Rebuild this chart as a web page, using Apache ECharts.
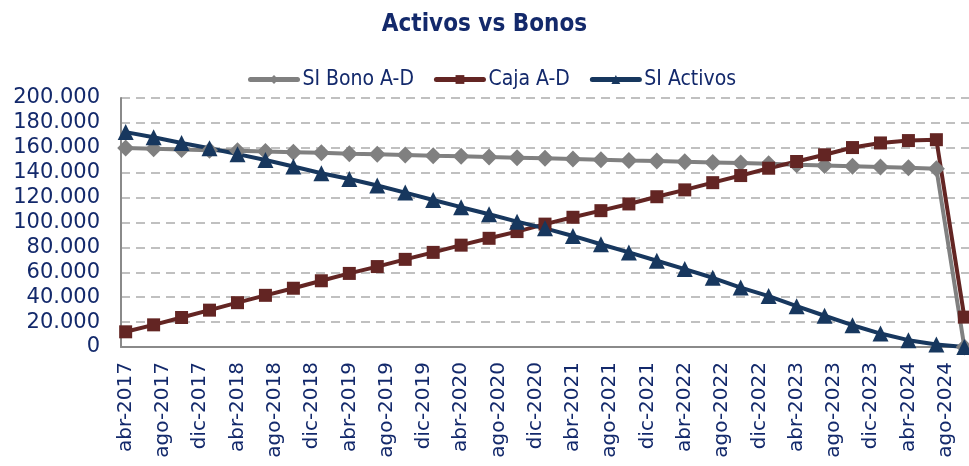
<!DOCTYPE html>
<html>
<head>
<meta charset="utf-8">
<script src="https://cdn.jsdelivr.net/npm/echarts@6/dist/echarts.min.js"></script>
<style>html,body{margin:0;padding:0;background:#fff;}#c{width:969px;height:466px;}</style>
</head>
<body>
<div id="c"></div>
<script>
// Monthly category axis (abr-2017 .. oct-2024); data is quarterly
const monthNames = ['ene','feb','mar','abr','may','jun','jul','ago','sep','oct','nov','dic'];
const startYear = 2017, startMonth = 3, monthCount = 91;
const categories = [];
for (let i = 0; i < monthCount; i++) {
  const m = (startMonth + i) % 12;
  const y = startYear + Math.floor((startMonth + i) / 12);
  categories.push(monthNames[m] + '-' + y);
}
const pointStep = 3; // one point per quarter

const siBono = [159800, 159300, 158700, 158100, 157600, 157000, 156500, 156000,
  155300, 154800, 154300, 153700, 153200, 152600, 152100, 151600, 151000, 150400,
  149800, 149300, 148700, 148200, 147700, 147100, 146400, 145800, 145200, 144600,
  144000, 143200, 0];
const caja = [12200, 17800, 23700, 29600, 35600, 41500, 47200, 53200,
  59100, 64600, 70400, 76000, 81800, 87300, 92700, 98700, 104200, 109500,
  114900, 120700, 126200, 132000, 137700, 143600, 149000, 154400, 160200, 163900,
  165800, 166500, 24000];
const siActivos = [172600, 168500, 163800, 159600, 154900, 150200, 145000, 139600,
  134900, 129700, 124000, 118100, 112300, 106600, 100700, 95300, 89200, 82500,
  76000, 69300, 62600, 55600, 47700, 40900, 32800, 25100, 17500, 10800,
  5500, 2000, 0];

const seriesNames = ['SI Bono A-D', 'Caja A-D', 'SI Activos'];
const yTicks = { min: 0, max: 200000, interval: 20000 };

function toPairs(vals) {
  return vals.map((v, i) => [categories[i * pointStep], v]);
}
const navy = '#13296b';
const chart = echarts.init(document.getElementById('c'), null, { renderer: 'canvas' });
chart.setOption({
  animation: false,
  backgroundColor: '#ffffff',
  title: {
    text: 'Activos vs Bonos',
    left: 'center',
    top: 8,
    textStyle: { fontFamily: '"DejaVu Sans Condensed", "DejaVu Sans", sans-serif', fontWeight: 'bold', fontSize: 24, color: navy }
  },
  legend: {
    top: 64,
    left: 243,
    itemWidth: 47,
    itemHeight: 11,
    itemGap: 20,
    lineStyle: { width: 5, cap: 'round' },
    textStyle: { fontFamily: '"DejaVu Sans Condensed", "DejaVu Sans", sans-serif', fontSize: 21, color: navy },
    data: seriesNames
  },
  grid: { left: 121, top: 98, right: 0, bottom: 119, containLabel: false },
  xAxis: {
    type: 'category',
    data: categories,
    boundaryGap: true,
    axisTick: { show: false },
    axisLine: { lineStyle: { color: '#8a8a8a', width: 2 } },
    axisLabel: { interval: 3, rotate: 90, margin: 15, fontSize: 20, color: navy, fontFamily: '"DejaVu Sans", sans-serif' },
    splitLine: { show: false }
  },
  yAxis: {
    type: 'value',
    min: yTicks.min, max: yTicks.max, interval: yTicks.interval,
    axisLine: { show: true, lineStyle: { color: '#8a8a8a', width: 2 } },
    axisTick: { show: false },
    axisLabel: {
      margin: 21, fontSize: 21, color: navy, fontFamily: '"DejaVu Sans", sans-serif',
      formatter: v => String(v).replace(/\B(?=(\d{3})+(?!\d))/g, '.')
    },
    splitLine: { show: true, lineStyle: { color: '#c0c0c0', width: 2, type: [9, 6] } }
  },
  series: [
    { name: seriesNames[0], type: 'line', data: toPairs(siBono), symbol: 'diamond', symbolSize: 17,
      showSymbol: true, showAllSymbol: true,
      lineStyle: { color: '#808080', width: 4 }, itemStyle: { color: '#808080' } },
    { name: seriesNames[1], type: 'line', data: toPairs(caja), symbol: 'rect', symbolSize: 13,
      showSymbol: true, showAllSymbol: true,
      lineStyle: { color: '#632523', width: 4 }, itemStyle: { color: '#632523' } },
    { name: seriesNames[2], type: 'line', data: toPairs(siActivos), symbol: 'triangle', symbolSize: 16,
      showSymbol: true, showAllSymbol: true,
      lineStyle: { color: '#17375e', width: 4 }, itemStyle: { color: '#17375e' } }
  ]
});
</script>
</body>
</html>
